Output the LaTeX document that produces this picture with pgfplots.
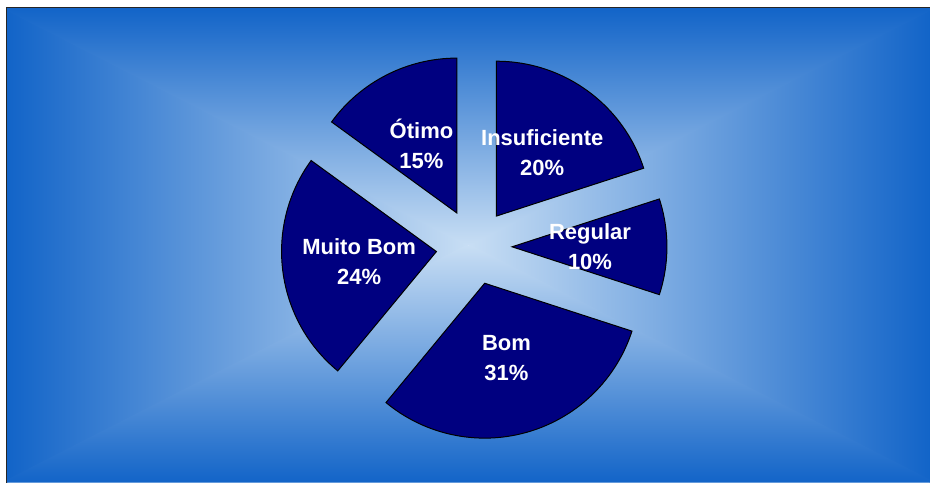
\documentclass[border=0pt]{standalone}
\usepackage{pgfplots}
\pgfplotsset{compat=1.18}
\usepackage{pgfplotstable}
\usepackage{fontspec}
\setmainfont{Liberation Sans}
\usetikzlibrary{calc}

\definecolor{edgeblue}{RGB}{18,100,200}
\definecolor{centerblue}{RGB}{200,222,244}
\definecolor{slice}{RGB}{0,0,128}

% share of each answer, clockwise from 12 o'clock
\pgfplotstableread{
label pct
Insuficiente 20
Regular 10
Bom 31
{Muito Bom} 24
Ótimo 15
}\piedata

\begin{document}
\begin{tikzpicture}
\begin{axis}[
  width=465.5pt, height=241.5pt, scale only axis,
  xmin=0, xmax=931, ymin=0, ymax=483, y dir=reverse,
  hide axis, clip=false,
]
% page and gradient background (rectangular, from centre)
\fill[white] (axis cs:0,0) rectangle (axis cs:931,483);
\shade[left color=edgeblue, right color=centerblue]
  (axis cs:7,8) -- (axis cs:7,483) -- (axis cs:469,245.5) -- cycle;
\shade[left color=centerblue, right color=edgeblue]
  (axis cs:931,8) -- (axis cs:931,483) -- (axis cs:469,245.5) -- cycle;
% top and bottom parts overlap the side parts a little, so no seam shows
\shade[top color=edgeblue, bottom color=centerblue]
  (axis cs:7,8) -- (axis cs:931,8) -- (axis cs:931,11) -- (axis cs:472,245.5)
  -- (axis cs:466,245.5) -- (axis cs:7,11) -- cycle;
\shade[top color=centerblue, bottom color=edgeblue]
  (axis cs:7,483) -- (axis cs:931,483) -- (axis cs:931,480) -- (axis cs:472,245.5)
  -- (axis cs:466,245.5) -- (axis cs:7,480) -- cycle;
\draw[black!85, line width=0.8pt] (axis cs:6.5,483) -- (axis cs:6.5,7.5) -- (axis cs:931,7.5);

% exploded pie
\pgfmathsetmacro\cum{0}
\pgfplotsforeachungrouped \i in {0,...,4}{%
  \pgfplotstablegetelem{\i}{pct}\of\piedata
  \let\pv\pgfplotsretval
  \pgfplotstablegetelem{\i}{label}\of\piedata
  \let\plab\pgfplotsretval
  \pgfmathsetmacro\aone{90-3.6*\cum}
  \pgfmathsetmacro\atwo{\aone-3.6*\pv}
  \pgfmathsetmacro\amid{(\aone+\atwo)/2}
  \edef\temp{%
    \noexpand\filldraw[fill=slice, draw=black, line width=0.5pt]
      ($(axis cs:474.5,247)+(\amid:19pt)$) -- ++(\aone:77.5pt)
      arc[start angle=\aone, end angle=\atwo, radius=77.5pt] -- cycle;
    \noexpand\node[text=white, align=center,
      font=\noexpand\bfseries\noexpand\fontsize{11}{15}\noexpand\selectfont]
      at ($(axis cs:474.5,247)+(\amid:58pt)$) {\plab\noexpand\\\pv\noexpand\%};
  }%
  \temp
  \pgfmathsetmacro\cum{\cum+\pv}
}
\end{axis}
\end{tikzpicture}
\end{document}
